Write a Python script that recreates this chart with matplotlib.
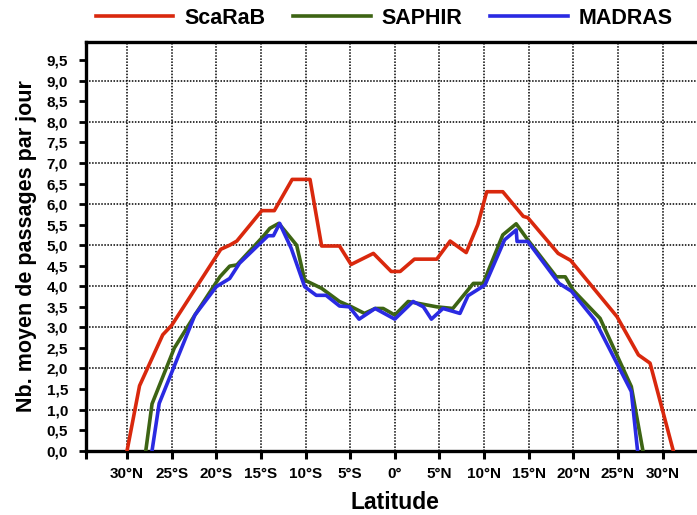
import matplotlib.pyplot as plt
import matplotlib.ticker as ticker

plt.rcParams['font.family'] = ['Liberation Sans', 'DejaVu Sans']

# Data (latitude in degrees, negative = south)
scarab_lat = [-30.0, -28.6, -26.0, -25.0, -19.5, -18.5, -17.7, -14.9, -13.5, -11.5, -9.5,
              -8.2, -6.2, -4.9, -2.4, -0.4, 0.6, 2.2, 4.7, 6.2, 8.0, 9.3, 10.3, 12.1,
              14.4, 14.9, 18.3, 19.7, 24.9, 27.3, 28.6, 31.2]
scarab_val = [0.0, 1.58, 2.82, 3.05, 4.9, 5.0, 5.1, 5.84, 5.84, 6.6, 6.6,
              4.98, 4.98, 4.53, 4.8, 4.36, 4.36, 4.66, 4.66, 5.1, 4.82, 5.5, 6.3, 6.3,
              5.7, 5.67, 4.8, 4.63, 3.26, 2.33, 2.13, 0.0]

saphir_lat = [-27.9, -27.2, -24.7, -22.4, -19.6, -18.5, -17.7, -14.8, -14.0, -13.0, -11.0,
              -10.1, -8.2, -6.2, -4.85, -3.4, -2.2, -1.3, 0.0, 1.5, 4.7, 6.5, 8.8, 9.9,
              12.1, 13.6, 14.9, 18.1, 19.1, 20.0, 23.0, 26.5, 27.8]
saphir_val = [0.0, 1.14, 2.5, 3.3, 4.23, 4.49, 4.52, 5.2, 5.41, 5.53, 5.0,
              4.15, 3.95, 3.63, 3.5, 3.34, 3.46, 3.46, 3.3, 3.63, 3.5, 3.46, 4.07, 4.07,
              5.25, 5.52, 5.13, 4.23, 4.23, 3.9, 3.22, 1.56, 0.0]

madras_lat = [-27.2, -26.4, -22.4, -20.0, -18.5, -17.4, -14.2, -13.6, -12.9, -11.6, -10.1,
              -8.8, -7.7, -6.2, -5.1, -4.0, -2.2, 0.0, 2.05, 3.2, 4.1, 5.4, 7.3, 8.2,
              10.1, 12.3, 13.6, 13.7, 14.9, 18.4, 19.8, 22.4, 26.5, 27.2]
madras_val = [0.0, 1.15, 3.3, 3.99, 4.19, 4.56, 5.23, 5.23, 5.53, 4.92, 3.99,
              3.78, 3.78, 3.52, 3.5, 3.2, 3.46, 3.2, 3.63, 3.5, 3.2, 3.46, 3.34, 3.77,
              4.03, 5.13, 5.37, 5.09, 5.09, 4.07, 3.88, 3.18, 1.44, 0.0]

xtick_pos = list(range(-30, 31, 5))
xtick_labels = ["30°N", "25°S", "20°S", "15°S", "10°S", "5°S", "0°",
                "5°N", "10°N", "15°N", "20°N", "25°N", "30°N"]

W, H = 697, 515
fig = plt.figure(figsize=(W / 100, H / 100), dpi=100)
# axes runs a little past the right edge of the figure, as in the original
ax = fig.add_axes([86 / W, 64.3 / H, 617.6 / W, 409 / H])

ax.plot(scarab_lat, scarab_val, color="#d9280d", lw=2.6, label="ScaRaB", zorder=3)
ax.plot(saphir_lat, saphir_val, color="#3d6414", lw=2.6, label="SAPHIR", zorder=3)
ax.plot(madras_lat, madras_val, color="#2a2ae2", lw=2.6, label="MADRAS", zorder=3)

ax.set_xlim(-34.6, 34.6)
ax.set_ylim(0, 9.95)

# Ticks
ax.set_xticks(xtick_pos)
ax.set_xticklabels(xtick_labels)
ax.set_xticks([-34.6], minor=True)
ax.yaxis.set_major_locator(ticker.MultipleLocator(0.5))
ax.yaxis.set_major_formatter(ticker.FuncFormatter(lambda v, p: f"{v:.1f}".replace(".", ",") if v < 9.9 else ""))
ax.tick_params(axis="x", which="both", direction="out", length=6, width=2.2, pad=6, labelsize=11)
ax.tick_params(axis="y", direction="out", length=5, width=2, pad=8, labelsize=11)
for lab in ax.get_xticklabels() + ax.get_yticklabels():
    lab.set_fontweight("bold")

# Grid: dotted black at each x tick and each whole y value
for x in xtick_pos:
    ax.axvline(x, color="black", linestyle=(0, (1, 1)), lw=1.1, zorder=1)
for y in range(1, 10):
    ax.axhline(y, color="black", linestyle=(0, (1, 1)), lw=1.1, zorder=1)

for side in ["left", "bottom", "top"]:
    ax.spines[side].set_linewidth(2.4)
ax.spines["right"].set_visible(False)

ax.set_xlabel("Latitude", fontsize=16.5, fontweight="bold", labelpad=7)
ax.set_ylabel("Nb. moyen de passages par jour", fontsize=15.5, fontweight="bold", labelpad=7)

fig.legend(loc="center", bbox_to_anchor=(384 / W, 1 - 18 / H), ncol=3, frameon=False,
           prop={"size": 15.5, "weight": "bold"}, handlelength=3.6, handletextpad=0.5,
           columnspacing=1.3)

plt.savefig("out.png", dpi=100)
plt.close()
